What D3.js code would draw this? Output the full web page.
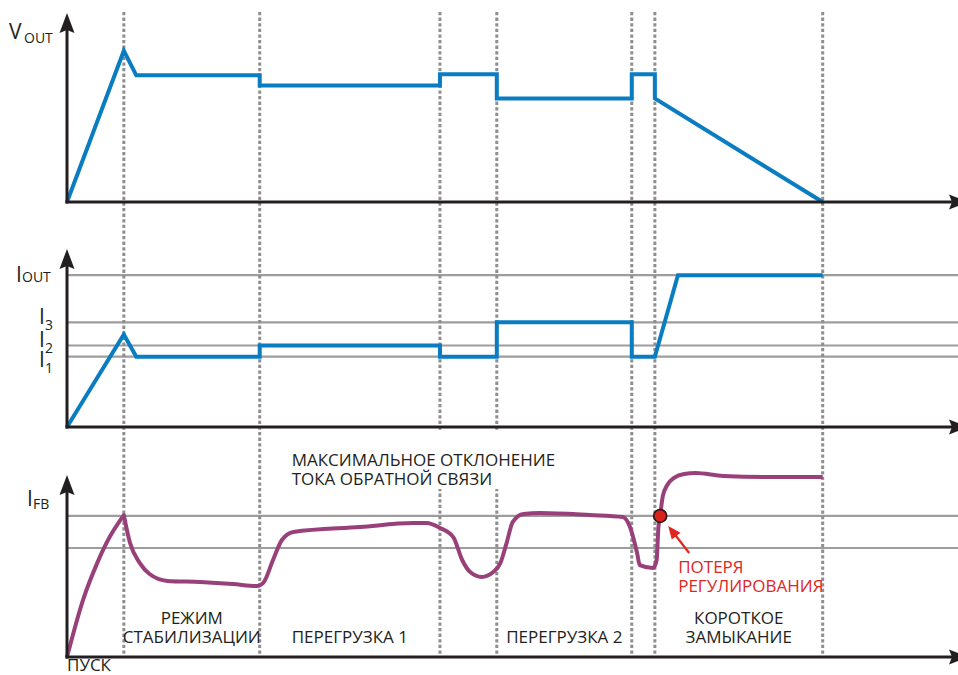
<!DOCTYPE html>
<html>
<head>
<meta charset="utf-8">
<script src="https://cdn.jsdelivr.net/npm/d3@7"></script>
<style>
  body { margin: 0; background: #fff; }
  svg { display: block; font-family: "Open Sans", sans-serif; }
</style>
</head>
<body>
<div id="chart"></div>
<script>
// time of each phase boundary (arbitrary units, 0..100)
const phaseTimes = [6.4, 21.7, 42.0, 48.4, 63.6, 66.2, 85.1];
const phaseLabels = [
    ['РЕЖИМ', 'СТАБИЛИЗАЦИИ'],
    ['ПЕРЕГРУЗКА 1'],
    ['ПЕРЕГРУЗКА 2'],
    ['КОРОТКОЕ', 'ЗАМЫКАНИЕ']
];
const startLabel = 'ПУСК';

// V_OUT
const voutT = [0, 6.4, 7.8, 21.7, 21.7, 42.0, 42.0, 48.4, 48.4, 63.6, 63.6, 66.2, 66.2, 85.1];
const voutV = [0, 80, 67, 67, 61.7, 61.7, 67.6, 67.6, 54.8, 54.8, 67.6, 67.6, 54.8, 0];

// I_OUT and its reference levels
const ioutLevels = [85.3, 58.8, 45.8, 39.5];
const ioutLevelNames = ['OUT', '3', '2', '1'];
const ioutT = [0, 6.4, 7.8, 21.7, 21.7, 42.0, 42.0, 48.4, 48.4, 63.6, 63.6, 66.2, 68.8, 85.1];
const ioutV = [0, 52, 39.5, 39.5, 45.8, 45.8, 39.5, 39.5, 58.8, 58.8, 39.5, 39.5, 85.3, 85.3];

// I_FB (cusp at index 4)
const fbLevels = [77.5, 59.9];
const ifbT = [0, 1.8, 3.4, 4.8, 6.4, 7.1, 8.2, 9.3, 11.3, 15.0, 18.7, 21.4, 22.1, 23.2, 24.2, 25.5,
    33.0, 39.0, 40.5, 42.0, 43.5, 44.5, 45.4, 46.7, 48.0, 48.8, 49.5, 50.2, 51.4, 53.3, 58.9, 62.6,
    63.4, 64.2, 64.5, 66.0, 66.4, 66.6, 66.8, 67.1, 67.6, 68.4, 69.5, 70.8, 73.9, 79.5, 85.1];
const ifbV = [0, 31.3, 51.6, 65.9, 78.0, 62.6, 51.6, 45.6, 41.8, 41.2, 40.1, 39.0, 40.7, 53.3, 64.3, 68.7,
    71.4, 73.6, 73.6, 70.9, 65.9, 53.3, 46.7, 44.0, 46.7, 51.6, 62.6, 74.2, 78.6, 79.1, 78.0, 76.9,
    71.4, 57.1, 50.5, 48.9, 53.3, 71.4, 78.0, 88.5, 94.5, 98.6, 100.6, 101.1, 99.5, 98.9, 98.9];
const ifbCusp = 4;
const lossPoint = [66.8, 77.5];
const lossLabel = ['ПОТЕРЯ', 'РЕГУЛИРОВАНИЯ'];
const noteLabel = ['МАКСИМАЛЬНОЕ ОТКЛОНЕНИЕ', 'ТОКА ОБРАТНОЙ СВЯЗИ'];

const width = 958;
const height = 675;
const ink = '#231f20';
const blue = '#0a7dc2';
const purple = '#984079';
const grey = '#9d9d9d';
const red = '#e0261f';
const fontSize = 17;

const svg = d3.select('#chart')
    .append('svg')
    .attr('width', width)
    .attr('height', height);

const x = d3.scaleLinear().domain([0, 100]).range([67, 955]);
const yV = d3.scaleLinear().domain([0, 100]).range([202, 13]);
const yI = d3.scaleLinear().domain([0, 100]).range([427, 249]);
const yF = d3.scaleLinear().domain([0, 100]).range([657, 475]);

const zip = (ts, vs) => ts.map((t, i) => [t, vs[i]]);

// horizontal reference levels
function levelLines(y, levels) {
    svg.append('g')
        .selectAll('line')
        .data(levels)
        .join('line')
        .attr('x1', x(0))
        .attr('x2', width)
        .attr('y1', d => y(d))
        .attr('y2', d => y(d))
        .attr('stroke', grey)
        .attr('stroke-width', 2.2);
}
levelLines(yI, ioutLevels);
levelLines(yF, fbLevels);

// dotted phase boundaries
svg.append('g')
    .selectAll('line')
    .data(phaseTimes)
    .join('line')
    .attr('x1', d => x(d))
    .attr('x2', d => x(d))
    .attr('y1', yV.range()[1] - 1)
    .attr('y2', yF(0))
    .attr('stroke', '#8f8f8f')
    .attr('stroke-width', 3)
    .attr('stroke-dasharray', '3.3,2.3');

// note over the gap between panels
const noteX = x(25.3);
svg.append('rect')
    .attr('x', noteX - 8)
    .attr('y', yI(0) + 4)
    .attr('width', 282)
    .attr('height', 58)
    .attr('fill', '#fff');
svg.append('g')
    .selectAll('text')
    .data(noteLabel)
    .join('text')
    .attr('x', noteX)
    .attr('y', (d, i) => 466 + i * 19)
    .attr('font-size', fontSize)
    .attr('fill', ink)
    .text(d => d);

// series
const stepLine = y => d3.line().x(d => x(d[0])).y(d => y(d[1]));

svg.append('path')
    .datum(zip(voutT, voutV))
    .attr('fill', 'none')
    .attr('stroke', blue)
    .attr('stroke-width', 4)
    .attr('d', stepLine(yV));

svg.append('path')
    .datum(zip(ioutT, ioutV))
    .attr('fill', 'none')
    .attr('stroke', blue)
    .attr('stroke-width', 4)
    .attr('d', stepLine(yI));

const ifb = zip(ifbT, ifbV);
const smooth = d3.line().x(d => x(d[0])).y(d => yF(d[1])).curve(d3.curveMonotoneX);
const ifbPath = smooth(ifb.slice(0, ifbCusp + 1)) + smooth(ifb.slice(ifbCusp)).replace(/^M/, 'L');
svg.append('path')
    .attr('fill', 'none')
    .attr('stroke', purple)
    .attr('stroke-width', 4)
    .attr('stroke-linejoin', 'round')
    .attr('d', ifbPath);

// axes with arrows
function axes(y) {
    const x0 = x(0);
    const y0 = y(0);
    const top = y.range()[1];
    const g = svg.append('g').attr('fill', ink).attr('stroke', ink);
    g.append('line')
        .attr('x1', x0).attr('x2', x0)
        .attr('y1', y0 + 1.5).attr('y2', top + 16)
        .attr('stroke-width', 3);
    g.append('path')
        .attr('stroke', 'none')
        .attr('d', `M${x0},${top} L${x0 + 7.5},${top + 20} L${x0},${top + 17} L${x0 - 7.5},${top + 20} Z`);
    g.append('line')
        .attr('x1', x0 - 1.5).attr('x2', 952)
        .attr('y1', y0).attr('y2', y0)
        .attr('stroke-width', 3);
    g.append('path')
        .attr('stroke', 'none')
        .attr('d', `M968,${y0} L949,${y0 - 7.5} L952,${y0} L949,${y0 + 7.5} Z`);
}
axes(yV);
axes(yI);
axes(yF);

// axis labels
function symbol(xi, base, main, sub, subX, subBase) {
    svg.append('text')
        .attr('x', xi).attr('y', base)
        .attr('font-size', 21).attr('fill', ink)
        .text(main);
    svg.append('text')
        .attr('x', subX).attr('y', subBase)
        .attr('font-size', 14).attr('fill', ink)
        .text(sub);
}
symbol(9, 39, 'V', 'OUT', 24, 43);
symbol(16, yI(ioutLevels[0]) + 7, 'I', ioutLevelNames[0], 22, yI(ioutLevels[0]) + 7);
ioutLevels.slice(1).forEach((level, i) => {
    const base = yI(level) + [2, 2, 10][i];
    symbol(39, base, 'I', ioutLevelNames[i + 1], 45, base + 6);
});
symbol(27, 506, 'I', 'FB', 33, 509);

// phase labels
const mids = [
    (phaseTimes[0] + phaseTimes[1]) / 2,
    (phaseTimes[1] + phaseTimes[2]) / 2,
    (phaseTimes[3] + phaseTimes[4]) / 2,
    (phaseTimes[5] + phaseTimes[6]) / 2
];
phaseLabels.forEach((lines, i) => {
    svg.append('g')
        .selectAll('text')
        .data(lines)
        .join('text')
        .attr('x', x(mids[i]))
        .attr('y', (d, j) => 643 - (lines.length - 1 - j) * 19)
        .attr('text-anchor', 'middle')
        .attr('font-size', fontSize)
        .attr('fill', ink)
        .text(d => d);
});
svg.append('text')
    .attr('x', x(0))
    .attr('y', 671)
    .attr('font-size', fontSize)
    .attr('fill', ink)
    .text(startLabel);

// loss of regulation marker
const px = x(lossPoint[0]);
const py = yF(lossPoint[1]);
const tail = [px + 29, py + 37];
const head = [px + 8, py + 10];
const ang = Math.atan2(head[1] - tail[1], head[0] - tail[0]);
svg.append('line')
    .attr('x1', tail[0]).attr('y1', tail[1])
    .attr('x2', head[0] - Math.cos(ang) * 8).attr('y2', head[1] - Math.sin(ang) * 8)
    .attr('stroke', red)
    .attr('stroke-width', 2.2);
svg.append('path')
    .attr('fill', red)
    .attr('d', `M${head[0]},${head[1]}`
        + ` L${head[0] - 13 * Math.cos(ang) + 5.5 * Math.sin(ang)},${head[1] - 13 * Math.sin(ang) - 5.5 * Math.cos(ang)}`
        + ` L${head[0] - 13 * Math.cos(ang) - 5.5 * Math.sin(ang)},${head[1] - 13 * Math.sin(ang) + 5.5 * Math.cos(ang)} Z`);
svg.append('circle')
    .attr('cx', px).attr('cy', py)
    .attr('r', 6.5)
    .attr('fill', '#d8231c')
    .attr('stroke', '#2a1414')
    .attr('stroke-width', 1.6);
svg.append('g')
    .selectAll('text')
    .data(lossLabel)
    .join('text')
    .attr('x', px + 18)
    .attr('y', (d, i) => py + 57 + i * 19)
    .attr('font-size', fontSize)
    .attr('fill', red)
    .text(d => d);
</script>
</body>
</html>
